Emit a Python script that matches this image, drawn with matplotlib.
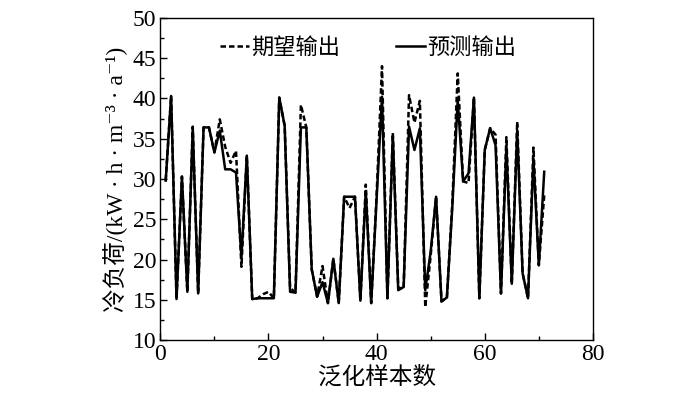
import matplotlib
matplotlib.use("Agg")
import matplotlib.pyplot as plt
from matplotlib.lines import Line2D
from matplotlib.ticker import MultipleLocator

plt.rcParams['font.family'] = ['Liberation Serif', 'DejaVu Serif', 'Noto Sans CJK SC']

samples = list(range(1, 72))
predicted = [29.8, 40.3, 15.1, 30.3, 16.0, 36.3, 15.8, 36.4, 36.4, 33.3,
             36.0, 31.2, 31.2, 30.8, 20.3, 32.9, 15.1, 15.2, 15.2, 15.2,
             15.2, 40.1, 36.6, 16.0, 15.9, 36.4, 36.4, 18.8, 15.4, 17.2,
             14.6, 20.1, 14.6, 27.8, 27.8, 27.8, 14.9, 28.5, 14.6, 27.5,
             40.2, 15.2, 35.4, 16.2, 16.6, 36.5, 33.6, 36.3, 16.2, 21.0,
             27.8, 14.8, 15.3, 26.5, 39.8, 29.7, 30.7, 40.1, 15.2, 33.6,
             36.3, 34.2, 15.8, 34.0, 17.0, 36.0, 18.3, 15.2, 32.5, 19.3,
             30.9]
expected = [29.8, 40.3, 15.1, 30.3, 16.0, 36.5, 15.8, 36.4, 36.4, 33.3,
            37.4, 34.0, 32.0, 33.5, 19.1, 32.9, 15.1, 15.2, 15.7, 16.0,
            15.2, 40.1, 36.6, 16.5, 15.9, 39.2, 36.4, 18.8, 15.4, 19.2,
            14.6, 20.1, 14.6, 27.8, 26.4, 27.8, 14.9, 29.3, 14.6, 28.0,
            44.0, 15.2, 35.7, 16.5, 16.4, 40.4, 37.0, 39.7, 14.1, 20.5,
            27.8, 14.8, 15.3, 27.0, 43.1, 29.7, 29.5, 40.1, 15.2, 33.6,
            36.3, 35.5, 15.8, 35.2, 17.0, 37.1, 18.3, 15.2, 33.9, 19.3,
            28.0]

legend_labels = ['期望输出', '预测输出']
xlabel = '泛化样本数'
ylabel = '冷负荷/(kW · h · m⁻³ · a⁻¹)'

fig = plt.figure(figsize=(7.0, 3.96), dpi=100)
ax = fig.add_axes([0.229, 0.141, 0.618, 0.814])

ax.plot(samples, predicted, color='black', lw=1.8, ls='-')
ax.plot(samples, expected, color='black', lw=1.8, ls=(0, (2.2, 1.2)))

ax.set_xlim(0, 80)
ax.set_ylim(10, 50)
ax.xaxis.set_major_locator(MultipleLocator(20))
ax.xaxis.set_minor_locator(MultipleLocator(10))
ax.yaxis.set_major_locator(MultipleLocator(5))
ax.yaxis.set_minor_locator(MultipleLocator(2.5))
ax.tick_params(which='both', direction='in', top=False, right=False, labelsize=17, width=1)
ax.tick_params(which='major', length=5, pad=3)
ax.tick_params(which='minor', length=3)
for s in ax.spines.values():
    s.set_linewidth(1.0)

ax.set_xlabel(xlabel, fontsize=17, labelpad=1)
ax.set_ylabel(ylabel, fontsize=17, labelpad=3)

handles = [Line2D([], [], color='black', lw=1.8, ls=(0, (2.2, 1.2))),
           Line2D([], [], color='black', lw=1.8, ls='-')]
ax.legend(handles, legend_labels, loc='upper center', bbox_to_anchor=(0.48, 1.0),
          ncol=2, frameon=False, fontsize=16, handlelength=1.3, handletextpad=0.1,
          columnspacing=2.5)

fig.savefig('out.png', dpi=100)
